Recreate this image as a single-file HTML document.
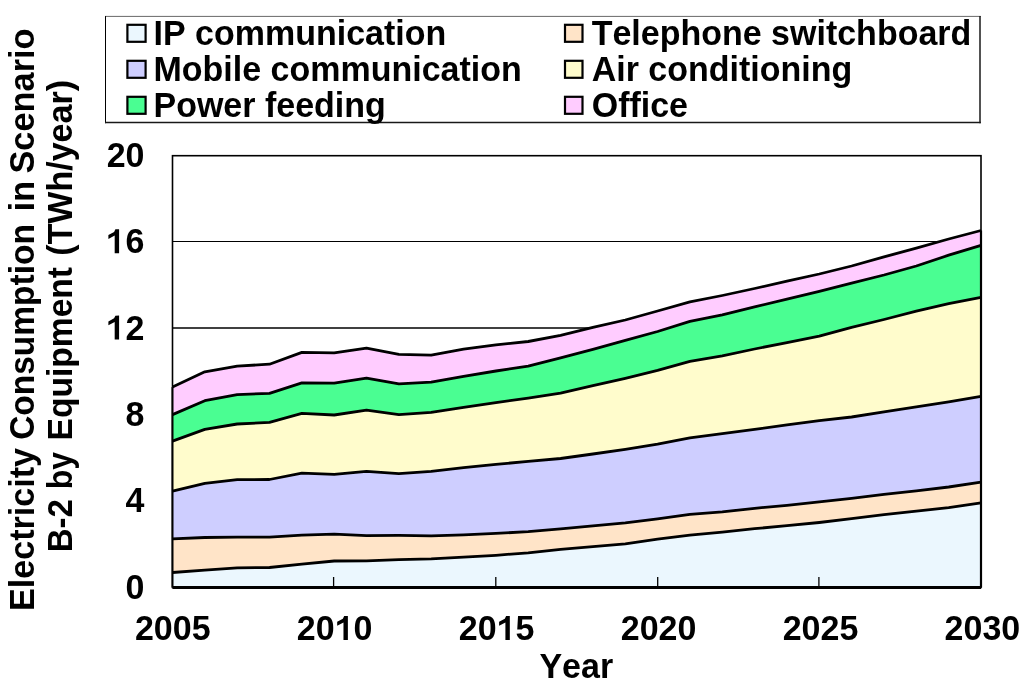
<!DOCTYPE html>
<html><head><meta charset="utf-8"><style>
html,body{margin:0;padding:0;background:#fff;}
body{width:1024px;height:684px;overflow:hidden;}
svg{display:block;will-change:transform;}
text{font-family:"Liberation Sans",sans-serif;font-weight:bold;font-size:34px;fill:#000;font-kerning:none;}
</style></head><body>
<svg width="1024" height="684" viewBox="0 0 1024 684">
<rect x="0" y="0" width="1024" height="684" fill="#fff"/>
<g stroke="#000"><line x1="105" y1="16.4" x2="980.8" y2="16.4" stroke-width="0.6"/><line x1="105.5" y1="16.1" x2="105.5" y2="123.2" stroke-width="1"/><line x1="980" y1="16.1" x2="980" y2="123.2" stroke-width="1.5" stroke="#181818"/><line x1="105" y1="122.5" x2="980.8" y2="122.5" stroke-width="1.5" stroke="#181818"/></g>
<rect x="127.4" y="24.8" width="18.2" height="17.0" fill="#EBF7FE" stroke="#000" stroke-width="2.2"/><text transform="translate(153.5,45.3) scale(1,1.055)">IP communication</text><rect x="127.4" y="60.8" width="18.2" height="17.0" fill="#CECEFF" stroke="#000" stroke-width="2.2"/><text transform="translate(153.5,81.0) scale(1,1.055)">Mobile communication</text><rect x="127.4" y="96.8" width="18.2" height="17.0" fill="#4AFE92" stroke="#000" stroke-width="2.2"/><text transform="translate(153.5,116.7) scale(1,1.055)">Power feeding</text><rect x="565.0" y="24.8" width="17.5" height="17.0" fill="#FFE4C8" stroke="#000" stroke-width="2.2"/><text transform="translate(591.7,45.3) scale(1,1.055)">Telephone switchboard</text><rect x="565.0" y="60.8" width="17.5" height="17.0" fill="#FFFCCC" stroke="#000" stroke-width="2.2"/><text transform="translate(591.7,81.0) scale(1,1.055)">Air conditioning</text><rect x="565.0" y="96.8" width="17.5" height="17.0" fill="#FFCCFF" stroke="#000" stroke-width="2.2"/><text transform="translate(591.7,116.7) scale(1,1.055)">Office</text>
<rect x="172.5" y="155.7" width="808.5" height="431.8" fill="#fff" stroke="#000" stroke-width="1.6"/>
<g stroke="#000" stroke-width="1.1"><line x1="172.5" y1="241.5" x2="981.0" y2="241.5" stroke-width="1.1"/><line x1="172.5" y1="328.0" x2="981.0" y2="328.0" stroke-width="1.5"/><line x1="172.5" y1="414.5" x2="981.0" y2="414.5" stroke-width="1.2"/><line x1="172.5" y1="501.0" x2="981.0" y2="501.0" stroke-width="1.2"/></g>
<path d="M172.5,572.5 L204.8,570.2 L237.2,567.9 L269.5,567.5 L301.9,564.2 L334.2,561.0 L366.5,560.8 L398.9,559.6 L431.2,558.8 L463.6,557.2 L495.9,555.3 L528.2,552.8 L560.6,549.4 L592.9,546.7 L625.3,543.8 L657.6,539.2 L689.9,535.2 L722.3,532.2 L754.6,528.7 L787.0,525.7 L819.3,522.5 L851.6,518.7 L884.0,514.7 L916.3,511.2 L948.7,507.6 L981.0,502.8 L981.0,587.5 L172.5,587.5 Z" fill="#EBF7FE"/><path d="M172.5,538.8 L204.8,537.5 L237.2,537.1 L269.5,537.2 L301.9,535.2 L334.2,534.1 L366.5,535.6 L398.9,535.4 L431.2,535.9 L463.6,534.9 L495.9,533.4 L528.2,531.7 L560.6,528.9 L592.9,525.9 L625.3,522.9 L657.6,518.8 L689.9,514.4 L722.3,511.9 L754.6,508.3 L787.0,505.3 L819.3,501.8 L851.6,498.3 L884.0,494.3 L916.3,490.9 L948.7,487.0 L981.0,482.1 L981.0,502.8 L948.7,507.6 L916.3,511.2 L884.0,514.7 L851.6,518.7 L819.3,522.5 L787.0,525.7 L754.6,528.7 L722.3,532.2 L689.9,535.2 L657.6,539.2 L625.3,543.8 L592.9,546.7 L560.6,549.4 L528.2,552.8 L495.9,555.3 L463.6,557.2 L431.2,558.8 L398.9,559.6 L366.5,560.8 L334.2,561.0 L301.9,564.2 L269.5,567.5 L237.2,567.9 L204.8,570.2 L172.5,572.5 Z" fill="#FFE4C8"/><path d="M172.5,491.1 L204.8,483.3 L237.2,479.7 L269.5,479.5 L301.9,473.1 L334.2,474.3 L366.5,471.3 L398.9,473.7 L431.2,471.4 L463.6,467.6 L495.9,464.4 L528.2,461.4 L560.6,458.5 L592.9,454.0 L625.3,449.3 L657.6,444.2 L689.9,437.9 L722.3,433.7 L754.6,429.4 L787.0,424.8 L819.3,420.7 L851.6,417.0 L884.0,411.9 L916.3,406.9 L948.7,401.9 L981.0,396.3 L981.0,482.1 L948.7,487.0 L916.3,490.9 L884.0,494.3 L851.6,498.3 L819.3,501.8 L787.0,505.3 L754.6,508.3 L722.3,511.9 L689.9,514.4 L657.6,518.8 L625.3,522.9 L592.9,525.9 L560.6,528.9 L528.2,531.7 L495.9,533.4 L463.6,534.9 L431.2,535.9 L398.9,535.4 L366.5,535.6 L334.2,534.1 L301.9,535.2 L269.5,537.2 L237.2,537.1 L204.8,537.5 L172.5,538.8 Z" fill="#CECEFF"/><path d="M172.5,441.1 L204.8,429.4 L237.2,424.0 L269.5,422.4 L301.9,413.4 L334.2,415.0 L366.5,410.2 L398.9,414.6 L431.2,412.4 L463.6,407.4 L495.9,402.6 L528.2,398.2 L560.6,393.1 L592.9,385.7 L625.3,378.3 L657.6,370.4 L689.9,361.4 L722.3,355.9 L754.6,349.0 L787.0,342.6 L819.3,336.2 L851.6,327.3 L884.0,319.5 L916.3,311.2 L948.7,303.6 L981.0,297.3 L981.0,396.3 L948.7,401.9 L916.3,406.9 L884.0,411.9 L851.6,417.0 L819.3,420.7 L787.0,424.8 L754.6,429.4 L722.3,433.7 L689.9,437.9 L657.6,444.2 L625.3,449.3 L592.9,454.0 L560.6,458.5 L528.2,461.4 L495.9,464.4 L463.6,467.6 L431.2,471.4 L398.9,473.7 L366.5,471.3 L334.2,474.3 L301.9,473.1 L269.5,479.5 L237.2,479.7 L204.8,483.3 L172.5,491.1 Z" fill="#FFFCCC"/><path d="M172.5,414.6 L204.8,400.7 L237.2,394.6 L269.5,393.3 L301.9,382.9 L334.2,383.2 L366.5,378.1 L398.9,383.8 L431.2,382.1 L463.6,376.3 L495.9,371.0 L528.2,366.2 L560.6,357.8 L592.9,349.4 L625.3,340.4 L657.6,331.5 L689.9,321.4 L722.3,314.8 L754.6,306.8 L787.0,299.2 L819.3,291.3 L851.6,283.1 L884.0,275.0 L916.3,266.0 L948.7,255.2 L981.0,245.3 L981.0,297.3 L948.7,303.6 L916.3,311.2 L884.0,319.5 L851.6,327.3 L819.3,336.2 L787.0,342.6 L754.6,349.0 L722.3,355.9 L689.9,361.4 L657.6,370.4 L625.3,378.3 L592.9,385.7 L560.6,393.1 L528.2,398.2 L495.9,402.6 L463.6,407.4 L431.2,412.4 L398.9,414.6 L366.5,410.2 L334.2,415.0 L301.9,413.4 L269.5,422.4 L237.2,424.0 L204.8,429.4 L172.5,441.1 Z" fill="#4AFE92"/><path d="M172.5,387.1 L204.8,371.8 L237.2,366.1 L269.5,364.2 L301.9,352.4 L334.2,352.8 L366.5,348.1 L398.9,354.3 L431.2,355.1 L463.6,349.2 L495.9,344.9 L528.2,341.5 L560.6,335.3 L592.9,327.3 L625.3,320.0 L657.6,311.0 L689.9,301.9 L722.3,295.5 L754.6,288.5 L787.0,281.2 L819.3,274.0 L851.6,266.0 L884.0,256.9 L916.3,248.2 L948.7,239.0 L981.0,230.5 L981.0,245.3 L948.7,255.2 L916.3,266.0 L884.0,275.0 L851.6,283.1 L819.3,291.3 L787.0,299.2 L754.6,306.8 L722.3,314.8 L689.9,321.4 L657.6,331.5 L625.3,340.4 L592.9,349.4 L560.6,357.8 L528.2,366.2 L495.9,371.0 L463.6,376.3 L431.2,382.1 L398.9,383.8 L366.5,378.1 L334.2,383.2 L301.9,382.9 L269.5,393.3 L237.2,394.6 L204.8,400.7 L172.5,414.6 Z" fill="#FFCCFF"/>
<g fill="none" stroke="#000" stroke-width="2.8" stroke-linejoin="round"><path d="M172.5,572.5 L204.8,570.2 L237.2,567.9 L269.5,567.5 L301.9,564.2 L334.2,561.0 L366.5,560.8 L398.9,559.6 L431.2,558.8 L463.6,557.2 L495.9,555.3 L528.2,552.8 L560.6,549.4 L592.9,546.7 L625.3,543.8 L657.6,539.2 L689.9,535.2 L722.3,532.2 L754.6,528.7 L787.0,525.7 L819.3,522.5 L851.6,518.7 L884.0,514.7 L916.3,511.2 L948.7,507.6 L981.0,502.8"/><path d="M172.5,538.8 L204.8,537.5 L237.2,537.1 L269.5,537.2 L301.9,535.2 L334.2,534.1 L366.5,535.6 L398.9,535.4 L431.2,535.9 L463.6,534.9 L495.9,533.4 L528.2,531.7 L560.6,528.9 L592.9,525.9 L625.3,522.9 L657.6,518.8 L689.9,514.4 L722.3,511.9 L754.6,508.3 L787.0,505.3 L819.3,501.8 L851.6,498.3 L884.0,494.3 L916.3,490.9 L948.7,487.0 L981.0,482.1"/><path d="M172.5,491.1 L204.8,483.3 L237.2,479.7 L269.5,479.5 L301.9,473.1 L334.2,474.3 L366.5,471.3 L398.9,473.7 L431.2,471.4 L463.6,467.6 L495.9,464.4 L528.2,461.4 L560.6,458.5 L592.9,454.0 L625.3,449.3 L657.6,444.2 L689.9,437.9 L722.3,433.7 L754.6,429.4 L787.0,424.8 L819.3,420.7 L851.6,417.0 L884.0,411.9 L916.3,406.9 L948.7,401.9 L981.0,396.3"/><path d="M172.5,441.1 L204.8,429.4 L237.2,424.0 L269.5,422.4 L301.9,413.4 L334.2,415.0 L366.5,410.2 L398.9,414.6 L431.2,412.4 L463.6,407.4 L495.9,402.6 L528.2,398.2 L560.6,393.1 L592.9,385.7 L625.3,378.3 L657.6,370.4 L689.9,361.4 L722.3,355.9 L754.6,349.0 L787.0,342.6 L819.3,336.2 L851.6,327.3 L884.0,319.5 L916.3,311.2 L948.7,303.6 L981.0,297.3"/><path d="M172.5,414.6 L204.8,400.7 L237.2,394.6 L269.5,393.3 L301.9,382.9 L334.2,383.2 L366.5,378.1 L398.9,383.8 L431.2,382.1 L463.6,376.3 L495.9,371.0 L528.2,366.2 L560.6,357.8 L592.9,349.4 L625.3,340.4 L657.6,331.5 L689.9,321.4 L722.3,314.8 L754.6,306.8 L787.0,299.2 L819.3,291.3 L851.6,283.1 L884.0,275.0 L916.3,266.0 L948.7,255.2 L981.0,245.3"/><path d="M172.5,387.1 L204.8,371.8 L237.2,366.1 L269.5,364.2 L301.9,352.4 L334.2,352.8 L366.5,348.1 L398.9,354.3 L431.2,355.1 L463.6,349.2 L495.9,344.9 L528.2,341.5 L560.6,335.3 L592.9,327.3 L625.3,320.0 L657.6,311.0 L689.9,301.9 L722.3,295.5 L754.6,288.5 L787.0,281.2 L819.3,274.0 L851.6,266.0 L884.0,256.9 L916.3,248.2 L948.7,239.0 L981.0,230.5"/>
<path d="M981.0,587.5 L172.5,587.5"/><path d="M981.0,230.5 L981.0,587.5" stroke-width="2.2"/><path d="M172.5,387.1 L172.5,587.5" stroke-width="2"/></g>
<g stroke="#000" stroke-width="1.3"><line x1="333.6" y1="577" x2="333.6" y2="587.5"/><line x1="495.8" y1="577" x2="495.8" y2="587.5"/><line x1="657.7" y1="577" x2="657.7" y2="587.5"/><line x1="818.9" y1="577" x2="818.9" y2="587.5"/></g>
<text transform="translate(172.75,640.00) scale(1,1.055)" text-anchor="middle">2005</text><text transform="translate(334.68,640.00) scale(1,1.055)" text-anchor="middle">20<tspan fill="transparent">1</tspan>0</text><path d="M344.18,616.10 L342.88,618.70 L337.18,621.80 L337.18,625.70 L343.48,622.40 L343.48,640.00 L347.88,640.00 L347.88,616.00 Z" fill="#000"/><text transform="translate(496.61,640.00) scale(1,1.055)" text-anchor="middle">20<tspan fill="transparent">1</tspan>5</text><path d="M506.11,616.10 L504.81,618.70 L499.11,621.80 L499.11,625.70 L505.41,622.40 L505.41,640.00 L509.81,640.00 L509.81,616.00 Z" fill="#000"/><text transform="translate(658.54,640.00) scale(1,1.055)" text-anchor="middle">2020</text><text transform="translate(820.47,640.00) scale(1,1.055)" text-anchor="middle">2025</text><text transform="translate(982.40,640.00) scale(1,1.055)" text-anchor="middle">2030</text>
<text transform="translate(144.50,598.80) scale(1,1.055)" text-anchor="end">0</text><text transform="translate(144.50,512.40) scale(1,1.055)" text-anchor="end">4</text><text transform="translate(144.50,426.00) scale(1,1.055)" text-anchor="end">8</text><text transform="translate(144.50,339.60) scale(1,1.055)" text-anchor="end"><tspan fill="transparent">1</tspan>2</text><path d="M115.39,315.70 L114.09,318.30 L108.39,321.40 L108.39,325.30 L114.69,322.00 L114.69,339.60 L119.09,339.60 L119.09,315.60 Z" fill="#000"/><text transform="translate(144.50,253.20) scale(1,1.055)" text-anchor="end"><tspan fill="transparent">1</tspan>6</text><path d="M115.39,229.30 L114.09,231.90 L108.39,235.00 L108.39,238.90 L114.69,235.60 L114.69,253.20 L119.09,253.20 L119.09,229.20 Z" fill="#000"/><text transform="translate(144.50,166.80) scale(1,1.055)" text-anchor="end">20</text>
<text transform="translate(576.3,677.5) scale(1,1.055)" text-anchor="middle">Year</text>
<text transform="translate(33.5,611.01) rotate(-90) scale(1,1.055)" textLength="163.04" lengthAdjust="spacingAndGlyphs">Electricity</text><text transform="translate(33.5,439.8) rotate(-90) scale(1,1.055)" textLength="215.64" lengthAdjust="spacingAndGlyphs">Consumption</text><text transform="translate(33.5,211.3) rotate(-90) scale(1,1.055)" textLength="30.22" lengthAdjust="spacingAndGlyphs">in</text><text transform="translate(33.5,173.55) rotate(-90) scale(1,1.055)" textLength="145.14" lengthAdjust="spacingAndGlyphs">Scenario</text><text transform="translate(72.4,552.34) rotate(-90) scale(1,1.055)" textLength="53.10" lengthAdjust="spacingAndGlyphs">B-2</text><text transform="translate(72.4,489.37) rotate(-90) scale(1,1.055)" textLength="37.30" lengthAdjust="spacingAndGlyphs">by</text><text transform="translate(72.4,440.41) rotate(-90) scale(1,1.055)" textLength="173.43" lengthAdjust="spacingAndGlyphs">Equipment</text><text transform="translate(72.4,255.84) rotate(-90) scale(1,1.055)" textLength="175.89" lengthAdjust="spacingAndGlyphs">(TWh/year)</text>

</svg>
</body></html>
